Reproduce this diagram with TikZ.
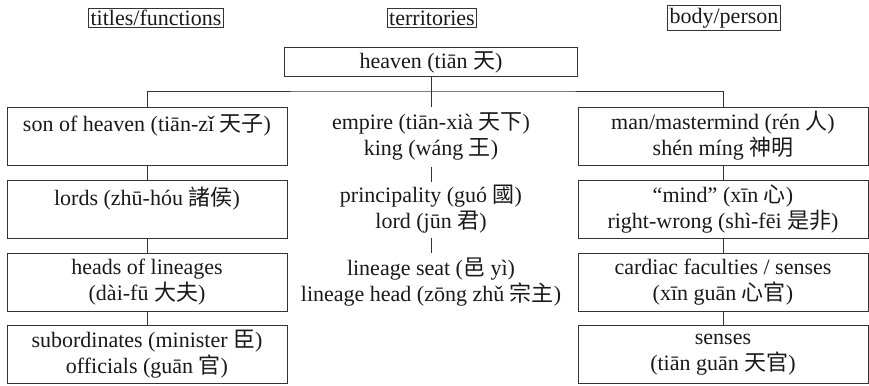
\documentclass[tikz,border=0pt]{standalone}
\usepackage{fontspec}
\setmainfont{Liberation Serif}
\newfontfamily\cjk{Noto Sans CJK TC}
\usepackage{tikz}

\begin{document}
\begin{tikzpicture}[x=0.5pt,y=-0.5pt]

\tikzset{
    every node/.style={font=\fontsize{11}{13}\selectfont, text=black!90},
    head/.style={draw=black!80, line width=0.5pt, inner sep=1pt},
    colbox/.style={draw=black!80, line width=0.5pt, align=center, inner sep=0pt,
        minimum height=29pt},
    leftbox/.style={colbox, minimum width=140pt},
    rightbox/.style={colbox, minimum width=145pt},
    midbox/.style={align=center, inner sep=0pt, minimum height=29pt, minimum width=140pt},
    link/.style={draw=black!80, line width=0.5pt}
}
\useasboundingbox (0,0) rectangle (869,386);

\node[head] (titles) at (156,18) {titles/functions};
\node[head] (territories) at (432,18) {territories};
\node[head] (person) at (724,18) {body/person};

\node[colbox, minimum width=146.5pt, minimum height=14.5pt] (heaven) at (431,62) {heaven (tiān {\cjk 天})};

\node[leftbox] (sonofheaven) at (147,136) {son of heaven (tiān-zǐ {\cjk 天子})\\ \mbox{}};
\node[leftbox] (lords) at (147,209) {lords (zhū-hóu {\cjk 諸侯})\\ \mbox{}};
\node[leftbox] (heads) at (147,282) {heads of lineages\\ (dài-fū {\cjk 大夫})};
\node[leftbox] (subordinates) at (147,354.5) {subordinates (minister {\cjk 臣})\\ officials (guān {\cjk 官})};

\node[midbox] (empire) at (431,136) {empire (tiān-xià {\cjk 天下})\\ king (wáng {\cjk 王})};
\node[midbox] (principality) at (431,209) {principality (guó {\cjk 國})\\ lord (jūn {\cjk 君})};
\node[midbox] (seat) at (431,282) {lineage seat ({\cjk 邑} yì)\\ lineage head (zōng zhǔ {\cjk 宗主})};

\node[rightbox] (man) at (723,136) {man/mastermind (rén {\cjk 人})\\ shén míng {\cjk 神明}};
\node[rightbox] (mind) at (723,209) {``mind'' (xīn {\cjk 心})\\ right-wrong (shì-fēi {\cjk 是非})};
\node[rightbox] (faculties) at (723,282) {cardiac faculties / senses\\ (xīn guān {\cjk 心官})};
\node[rightbox] (senses) at (723,354.5) {senses\\ (tiān guān {\cjk 天官})};

\coordinate (bar) at (431,91);
\draw[link] (heaven.south) -- (empire.north);
\draw[link] (sonofheaven.north) |- (bar) -| (man.north);

\draw[link] (sonofheaven) -- (lords);
\draw[link] (lords) -- (heads);
\draw[link] (heads) -- (subordinates);

\draw[link] (empire.south) ++(0,2) -- ([yshift=-1pt]principality.north);
\draw[link] (principality.south) -- (seat.north);

\draw[link] (man) -- (mind);
\draw[link] (mind) -- (faculties);
\draw[link] (faculties) -- (senses);
\end{tikzpicture}
\end{document}
